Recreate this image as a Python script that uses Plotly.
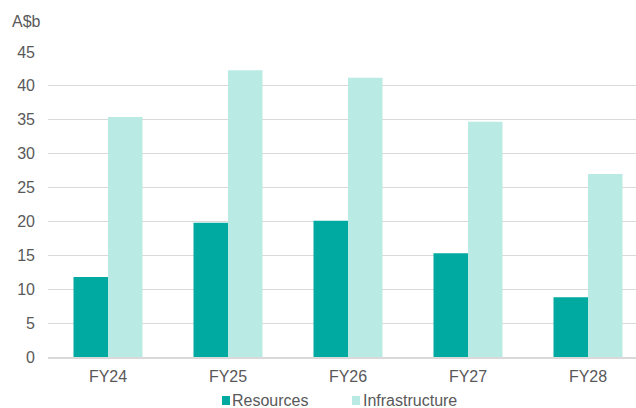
import plotly.graph_objects as go

categories = ["FY24", "FY25", "FY26", "FY27", "FY28"]
resources = [11.8, 19.8, 20.1, 15.3, 8.8]
infrastructure = [35.4, 42.3, 41.2, 34.7, 27.0]
y_ticks = [0, 5, 10, 15, 20, 25, 30, 35, 40, 45]

c_res = "#00AAA0"
c_inf = "#B9EBE4"

fig = go.Figure()
fig.add_trace(go.Bar(x=categories, y=resources, name="Resources",
                     marker=dict(color=c_res, line=dict(width=0))))
fig.add_trace(go.Bar(x=categories, y=infrastructure, name="Infrastructure",
                     marker=dict(color=c_inf, line=dict(width=0))))

font = dict(family="Liberation Sans, Arial, sans-serif", size=16, color="#595959")

# plot area in pixels: x 48..636, y 52..357
L, R, T, B = 48, 636, 52, 357
def px(x):
    return (x - L) / (R - L)
def py(y):
    return (B - y) / (B - T)

fig.update_layout(
    width=636, height=408,
    margin=dict(l=L, r=636 - R, t=T, b=408 - B, autoexpand=False),
    paper_bgcolor="white", plot_bgcolor="white",
    barmode="group", bargap=0.425, bargroupgap=0,
    font=font,
    showlegend=False,
    xaxis=dict(range=[-0.5, 4.4], showgrid=False, showline=True,
               linecolor="#d9d9d9", linewidth=1.5, ticks="", tickfont=font,
               ticklabelstandoff=4),
    yaxis=dict(range=[0, 45], tickvals=y_ticks, showgrid=True,
               gridcolor="#d9d9d9", gridwidth=1.4, zeroline=False,
               showline=False, ticks="", tickfont=font,
               ticklabelstandoff=12),
)

shapes = [
    dict(type="rect", xref="paper", yref="paper", x0=px(222), x1=px(230),
         y0=py(405), y1=py(396), fillcolor=c_res, line=dict(width=0)),
    dict(type="rect", xref="paper", yref="paper", x0=px(352), x1=px(360),
         y0=py(405), y1=py(396), fillcolor=c_inf, line=dict(width=0)),
]
annotations = [
    dict(text="A$b", xref="paper", yref="paper", x=px(10), y=py(22),
         xanchor="left", yanchor="middle", showarrow=False, font=font),
    dict(text="Resources", xref="paper", yref="paper", x=px(230), y=py(400.5),
         xanchor="left", yanchor="middle", showarrow=False, font=font),
    dict(text="Infrastructure", xref="paper", yref="paper", x=px(361), y=py(400.5),
         xanchor="left", yanchor="middle", showarrow=False, font=font),
]
fig.update_layout(shapes=shapes, annotations=annotations)
fig.write_html("out.html")
